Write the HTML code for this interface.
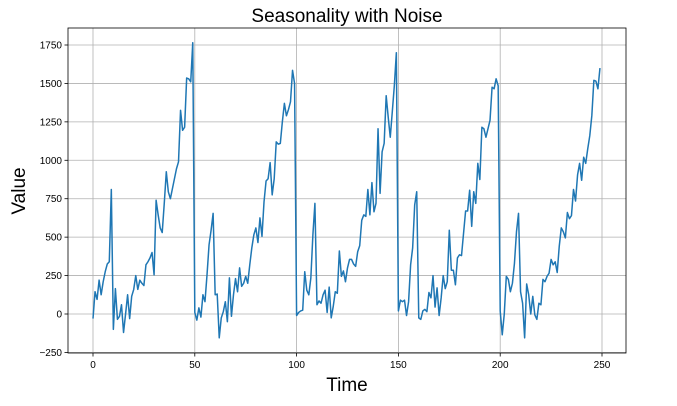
<!DOCTYPE html>
<html><head><meta charset="utf-8"><style>
body{margin:0;background:#fff;width:677px;height:401px;overflow:hidden}
text{font-family:"Liberation Sans","DejaVu Sans",sans-serif}
</style></head><body>
<svg id="chart" width="677" height="401" xmlns="http://www.w3.org/2000/svg">
<text x="347" y="22" font-size="19" text-anchor="middle">Seasonality with Noise</text>
<text x="347" y="391" font-size="19" text-anchor="middle">Time</text>
<text transform="translate(25,191) rotate(-90)" font-size="19" text-anchor="middle">Value</text>
<g id="grid"></g><g id="ticks"></g><g id="series"></g>
<rect x="68" y="28" width="558" height="325" fill="none" stroke="#000" stroke-width="0.8"/>
</svg>
<script>
const values = [
-30,145,95,220,125,210,275,325,340,810,-100,165,-35,-15,60,-120,0,125,-30,115,160,250,160,220,200,185,320,340,365,400,255,740,645,560,530,720,925,795,750,815,880,945,990,1325,1195,1215,1535,1530,1510,1765,
10,-40,40,-20,125,80,255,450,545,655,125,130,-155,-25,15,80,-50,235,-15,125,230,145,300,180,200,245,200,320,430,515,560,465,625,505,730,865,880,985,775,880,1120,1105,1110,1250,1370,1290,1330,1380,1585,1500,
-10,10,20,25,275,155,125,235,515,720,60,85,70,125,155,10,175,-25,50,145,135,410,245,280,210,300,355,355,325,310,405,445,610,645,635,810,645,855,665,720,1205,785,1055,1110,1420,1280,1150,1315,1485,1700,
20,90,80,90,-10,80,320,430,710,795,-25,-35,20,30,15,140,105,250,45,170,-10,105,250,165,210,545,285,285,190,365,385,380,525,670,670,805,570,795,720,980,875,1215,1205,1150,1205,1260,1475,1465,1530,1485,
20,-135,0,245,225,145,200,330,535,655,145,70,-155,195,125,0,115,-5,-35,70,60,225,210,245,265,355,320,340,270,440,560,535,495,660,620,640,810,735,905,980,870,1020,980,1075,1160,1290,1520,1515,1465,1600];
const xTicks = [0,50,100,150,200,250];
const yTicks = [-250,0,250,500,750,1000,1250,1500,1750];
const yTickLabels = ["−250","0","250","500","750","1000","1250","1500","1750"];
const NS="http://www.w3.org/2000/svg";
const X0=68,X1=626,Y0=28,Y1=353;
function xs(v){return 93+(v-0)*(602-93)/250;}
function ys(v){return 314-v*(314-45)/1750;}
function mk(tag,attrs,parent){const e=document.createElementNS(NS,tag);for(const k in attrs)e.setAttribute(k,attrs[k]);parent.appendChild(e);return e;}
const grid=document.getElementById('grid'),ticks=document.getElementById('ticks'),series=document.getElementById('series');
xTicks.forEach(t=>{const x=xs(t);
 const g=mk('line',{x1:x,x2:x,y1:Y0,y2:Y1,stroke:'#b0b0b0','stroke-width':0.8},grid);
 
 
 mk('line',{x1:x,x2:x,y1:Y1,y2:Y1+3.5,stroke:'#000','stroke-width':0.8},ticks);
 const l=mk('text',{x:x,y:Y1+15,'font-size':10,'text-anchor':'middle'},ticks);l.textContent=t;
 
 
});
yTicks.forEach((t,i)=>{const y=ys(t);
 const g=mk('line',{x1:X0,x2:X1,y1:y,y2:y,stroke:'#b0b0b0','stroke-width':0.8},grid);
 
 
 mk('line',{x1:X0-3.5,x2:X0,y1:y,y2:y,stroke:'#000','stroke-width':0.8},ticks);
 const l=mk('text',{x:X0-6,y:y+3.5,'font-size':10,'text-anchor':'end'},ticks);l.textContent=yTickLabels[i];
 
 
});
const d=values.map((v,i)=>(i?'L':'M')+xs(i).toFixed(2)+','+ys(v).toFixed(2)).join('');
const p=mk('path',{d:d,fill:'none',stroke:'#1f77b4','stroke-width':1.5,'stroke-linejoin':'round'},series);


</script>
</body></html>
